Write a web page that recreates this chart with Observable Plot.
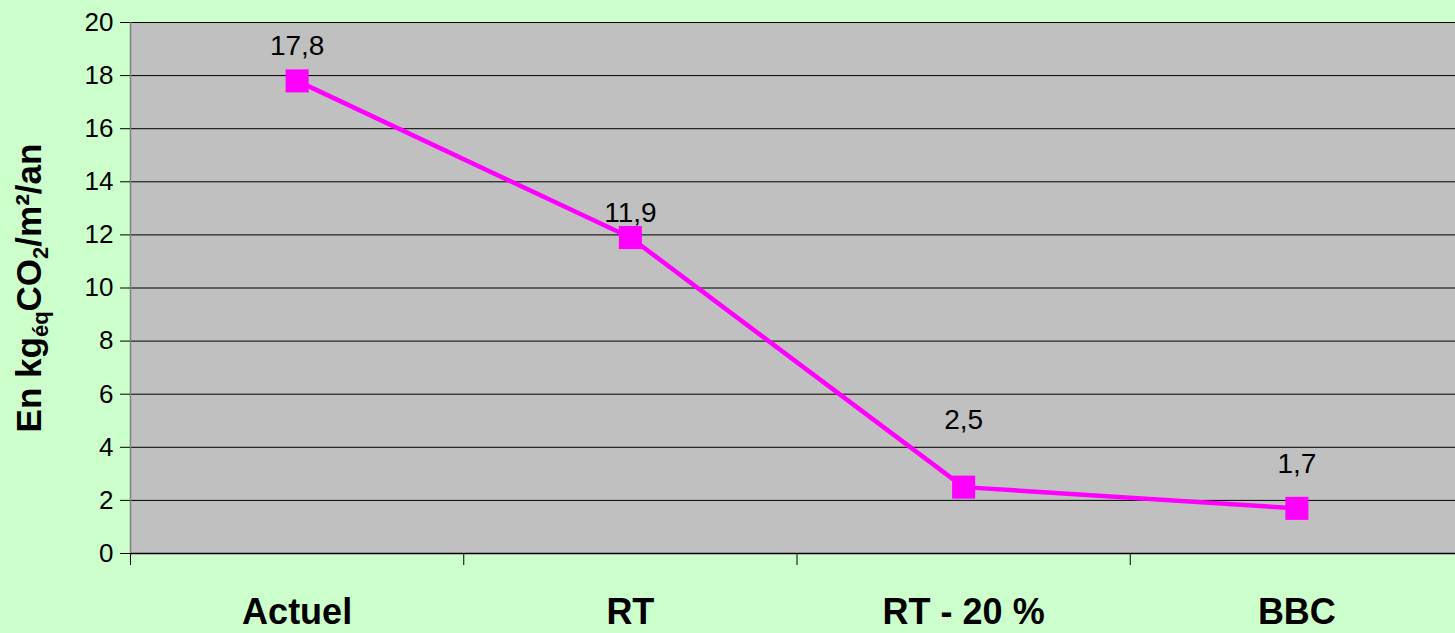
<!DOCTYPE html>
<html>
<head>
<meta charset="utf-8">
<script src="https://cdn.jsdelivr.net/npm/d3@7"></script>
<script src="https://cdn.jsdelivr.net/npm/@observablehq/plot@0.6"></script>
<style>
  html, body { margin: 0; padding: 0; background: #ccffcc; }
  #chart svg { display: block; }
</style>
</head>
<body>
<div id="chart"></div>
<script>
const categories = ["Actuel", "RT", "RT - 20 %", "BBC"];
const values = [17.8, 11.9, 2.5, 1.7];
const valueLabels = ["17,8", "11,9", "2,5", "1,7"];
const yTicks = [0, 2, 4, 6, 8, 10, 12, 14, 16, 18, 20];

const labelDy = [-35, -25, -67, -44];

const data = categories.map((c, i) => ({cat: c, idx: i + 0.5, value: values[i], label: valueLabels[i], dy: labelDy[i]}));

const font = "'Liberation Sans', Arial, sans-serif";

const chart = Plot.plot({
  width: 1455,
  height: 633,
  marginLeft: 130,
  marginTop: 22,
  marginBottom: 80,
  marginRight: 0,
  style: {background: "#ccffcc", fontFamily: font, color: "#000"},
  x: {type: "linear", domain: [0, 4], range: [130, 1463]},
  y: {domain: [0, 20], range: [553, 22]},
  marks: [
    Plot.rect([0], {x1: 0, x2: 4, y1: 0, y2: 20, fill: "#c0c0c0"}),
    Plot.ruleY(yTicks.filter(t => t > 0), {stroke: "#000", strokeWidth: 1}),
    Plot.ruleY([0], {stroke: "#000", strokeWidth: 1.5}),
    Plot.ruleX([0], {y1: 0, y2: 20, stroke: "#808080", strokeWidth: 1.5}),
    Plot.axisY({ticks: yTicks, tickSize: 10, tickPadding: 7, fontSize: 26, label: null, stroke: "#000"}),
    Plot.axisX({ticks: [0, 1, 2, 3, 4], tickSize: 12, tickFormat: () => "", label: null}),
    Plot.axisX({ticks: [0.5, 1.5, 2.5, 3.5], tickSize: 0, tickPadding: 45, fontSize: 36, fontWeight: "bold",
      tickFormat: d => categories[Math.floor(d)], label: null}),
    Plot.line(data, {x: "idx", y: "value", stroke: "#ff00ff", strokeWidth: 4.5}),
    Plot.dot(data, {x: "idx", y: "value", symbol: "square", r: 13, fill: "#ff00ff", stroke: "none"}),
    ...data.map(d => Plot.text([d], {x: "idx", y: "value", text: "label", dy: d.dy, fontSize: 28, fill: "#000"}))
  ]
});

document.getElementById("chart").appendChild(chart);

// Y axis label with subscripts
const svg = d3.select(chart);
const t = svg.append("text")
  .attr("transform", "translate(41,288) rotate(-90)")
  .attr("text-anchor", "middle")
  .attr("font-family", font)
  .attr("font-weight", "bold")
  .attr("font-size", 35)
  .attr("fill", "#000");
t.append("tspan").text("En kg");
t.append("tspan").attr("font-size", 22).attr("dy", 7).text("éq");
t.append("tspan").attr("dy", -7).text("CO");
t.append("tspan").attr("font-size", 22).attr("dy", 7).text("2");
t.append("tspan").attr("dy", -7).text("/m²/an");
</script>
</body>
</html>
